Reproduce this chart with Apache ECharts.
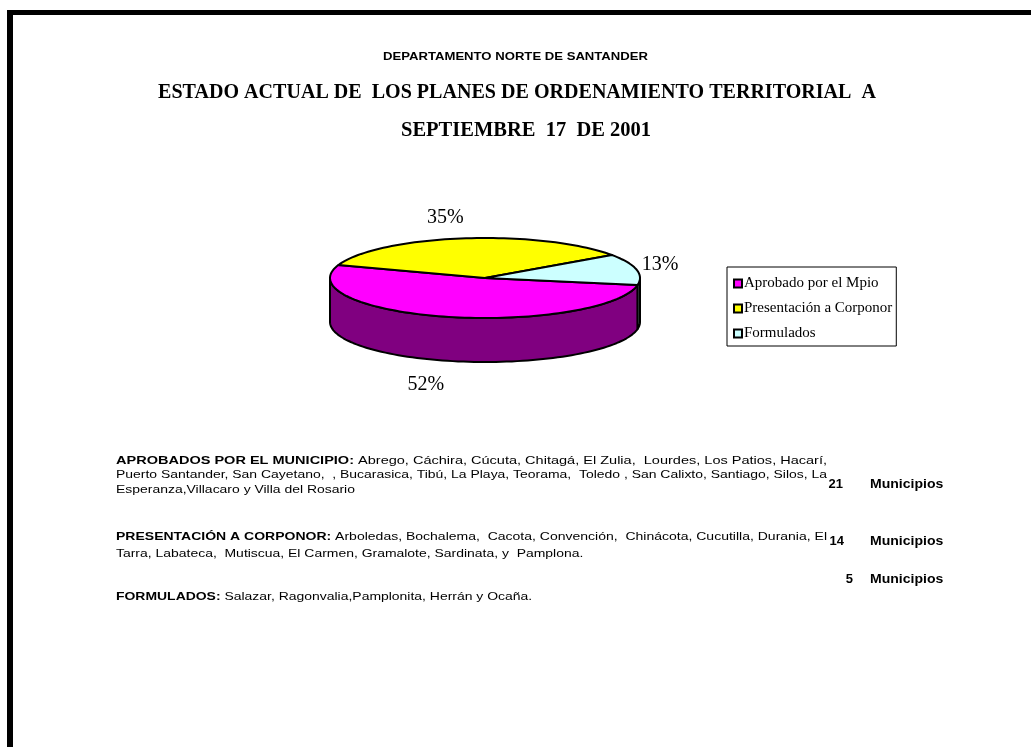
<!DOCTYPE html>
<html>
<head>
<meta charset="utf-8">
<script src="https://cdn.jsdelivr.net/npm/echarts@6/dist/echarts.min.js"></script>
<style>
html, body { margin: 0; padding: 0; background: #fff; }
#main { width: 1031px; height: 747px; }
</style>
</head>
<body>
<div id="main"></div>
<script>
// data
var categories = ['Aprobado por el Mpio', 'Presentación a Corponor', 'Formulados'];
var municipios = [21, 14, 5];
var pctLabels = ['52%', '35%', '13%'];
var countLabels = ['21', '14', '5'];

// colours of the 3d pie (top face / side face)
var topColors = ['#FF00FF', '#FFFF00', '#CCFFFF'];
var sideColors = ['#800080', '#808000', '#668080'];

var dom = document.getElementById('main');
var myChart = echarts.init(dom);
var option = null;

// pie geometry (ellipse)
var cx = 485, cy = 278, rx = 155, ry = 40, depth = 44;
var startDeg = 10;

var total = municipios.reduce(function (a, b) { return a + b; }, 0);

function pt(deg, dy) {
    var r = deg * Math.PI / 180;
    return [cx + rx * Math.cos(r), cy + ry * Math.sin(r) + (dy || 0)];
}
function arc(a, b, dy) {
    var pts = [];
    var n = Math.max(2, Math.ceil((b - a) / 2));
    for (var k = 0; k <= n; k++) {
        pts.push(pt(a + (b - a) * k / n, dy));
    }
    return pts;
}

function renderSlice(params, api) {
    var i = params.seriesIndex;
    var before = 0;
    for (var j = 0; j < i; j++) before += municipios[j];
    var a0 = startDeg + before / total * 360;
    var a1 = a0 + api.value(0) / total * 360;
    var children = [];
    // visible side faces (front half of the ellipse)
    [0, 360].forEach(function (k) {
        var s = Math.max(a0, k), e = Math.min(a1, k + 180);
        if (e > s) {
            var pts = arc(s, e, 0).concat(arc(s, e, depth).reverse());
            children.push({
                type: 'polygon', z2: 1,
                shape: { points: pts },
                style: { fill: sideColors[i], stroke: '#000', lineWidth: 2, lineJoin: 'round' }
            });
        }
    });
    // top face
    children.push({
        type: 'polygon', z2: 2,
        shape: { points: [[cx, cy]].concat(arc(a0, a1, 0)) },
        style: { fill: topColors[i], stroke: '#000', lineWidth: 2, lineJoin: 'round' }
    });
    // label
    var m = (a0 + a1) / 2 * Math.PI / 180;
    var sn = Math.sin(m);
    var lx = cx + (rx + 25) * Math.cos(m) - 15 * sn * sn;
    var ly = cy + (ry + 21) * sn + (sn > 0 ? depth + 4 : 0);
    children.push({
        type: 'text', z2: 3,
        style: {
            text: pctLabels[i], x: lx, y: ly,
            align: 'center', verticalAlign: 'middle',
            fontFamily: 'Liberation Serif', fontSize: 20, fill: '#000'
        }
    });
    return { type: 'group', children: children };
}

// text fitting helper
var ctx = document.createElement('canvas').getContext('2d');
function textWidth(text, font) {
    ctx.font = font;
    return ctx.measureText(text).width;
}

var title1 = 'ESTADO ACTUAL DE  LOS PLANES DE ORDENAMIENTO TERRITORIAL  A';
var title2 = 'SEPTIEMBRE  17  DE 2001';
var subTitle = 'DEPARTAMENTO NORTE DE SANTANDER';
var tFont = 'bold 21px "Liberation Serif"';
var sFont = 'bold 11px "Liberation Sans"';

// [bold head, text, middle y, justified]
var bodyLines = [
    ['APROBADOS POR EL MUNICIPIO:', ' Abrego, Cáchira, Cúcuta, Chitagá, El Zulia,  Lourdes, Los Patios, Hacarí,', 460.5, true],
    ['', 'Puerto Santander, San Cayetano,  , Bucarasica, Tibú, La Playa, Teorama,  Toledo , San Calixto, Santiago, Silos, La', 475, true],
    ['', 'Esperanza,Villacaro y Villa del Rosario', 489.5, false],
    ['PRESENTACIÓN A CORPONOR:', ' Arboledas, Bochalema,  Cacota, Convención,  Chinácota, Cucutilla, Durania, El', 537, true],
    ['', 'Tarra, Labateca,  Mutiscua, El Carmen, Gramalote, Sardinata, y  Pamplona.', 553.5, false],
    ['FORMULADOS:', ' Salazar, Ragonvalia,Pamplonita, Herrán y Ocaña.', 597, false]
];
var bodyWidth = 711;
var rFont = '11px "Liberation Sans"', bFont = 'bold 11px "Liberation Sans"';
var bodyScale = bodyWidth / textWidth(bodyLines[1][1], rFont);
var countY = [484.5, 541.5, 579];
var countRight = [843, 844, 853];

var graphics = [
    { type: 'rect', shape: { x: 7, y: 10, width: 1024, height: 5 }, style: { fill: '#000' } },
    { type: 'rect', shape: { x: 7, y: 10, width: 6, height: 737 }, style: { fill: '#000' } },
    {
        type: 'text', x: 515.5, y: 57, scaleX: 265 / textWidth(subTitle, sFont),
        style: { text: subTitle, x: 0, y: 0, align: 'center', verticalAlign: 'middle', font: sFont, fill: '#000' }
    },
    {
        type: 'text', x: 517, y: 93, scaleX: 718 / textWidth(title1, tFont),
        style: { text: title1, x: 0, y: 0, align: 'center', verticalAlign: 'middle', font: tFont, fill: '#000' }
    },
    {
        type: 'text', x: 526, y: 131, scaleX: 250 / textWidth(title2, tFont),
        style: { text: title2, x: 0, y: 0, align: 'center', verticalAlign: 'middle', font: tFont, fill: '#000' }
    }
];

bodyLines.forEach(function (l) {
    var w = textWidth(l[0], bFont) + textWidth(l[1], rFont);
    graphics.push({
        type: 'text', x: 116, y: l[2], scaleX: l[3] ? bodyWidth / w : bodyScale,
        style: {
            text: (l[0] ? '{b|' + l[0] + '}' : '') + '{r|' + l[1] + '}',
            x: 0, y: 0, align: 'left', verticalAlign: 'middle',
            fontFamily: 'Liberation Sans', fontSize: 11, fill: '#000',
            rich: {
                b: { fontFamily: 'Liberation Sans', fontSize: 11, fontWeight: 'bold', fill: '#000' },
                r: { fontFamily: 'Liberation Sans', fontSize: 11, fill: '#000' }
            }
        }
    });
});

countLabels.forEach(function (c, i) {
    graphics.push({
        type: 'text',
        style: {
            text: c, x: countRight[i], y: countY[i], align: 'right', verticalAlign: 'middle',
            fontFamily: 'Liberation Sans', fontSize: 13, fontWeight: 'bold', fill: '#000'
        }
    });
    graphics.push({
        type: 'text', x: 870, y: countY[i], scaleX: 1.08,
        style: {
            text: 'Municipios', x: 0, y: 0, align: 'left', verticalAlign: 'middle',
            fontFamily: 'Liberation Sans', fontSize: 13, fontWeight: 'bold', fill: '#000'
        }
    });
});

option = {
    animation: false,
    backgroundColor: '#fff',
    color: topColors,
    legend: {
        data: categories,
        orient: 'vertical',
        left: 727,
        top: 267,
        backgroundColor: '#fff',
        borderColor: '#000',
        borderWidth: 1,
        borderRadius: 0,
        padding: [9, 4, 5, 6],
        itemGap: 10,
        itemWidth: 8,
        itemHeight: 8,
        icon: 'rect',
        itemStyle: { borderColor: '#000', borderWidth: 2 },
        textStyle: { fontFamily: 'Liberation Serif', fontSize: 15, color: '#000', padding: [0, 0, 0, -3] },
        selectedMode: false
    },
    graphic: graphics,
    series: categories.map(function (name, i) {
        return {
            name: name,
            type: 'custom',
            coordinateSystem: 'none',
            silent: true,
            itemStyle: { color: topColors[i] },
            renderItem: renderSlice,
            data: [municipios[i]]
        };
    })
};

if (option && typeof option === "object") {
    myChart.setOption(option, true);
}
</script>
</body>
</html>
